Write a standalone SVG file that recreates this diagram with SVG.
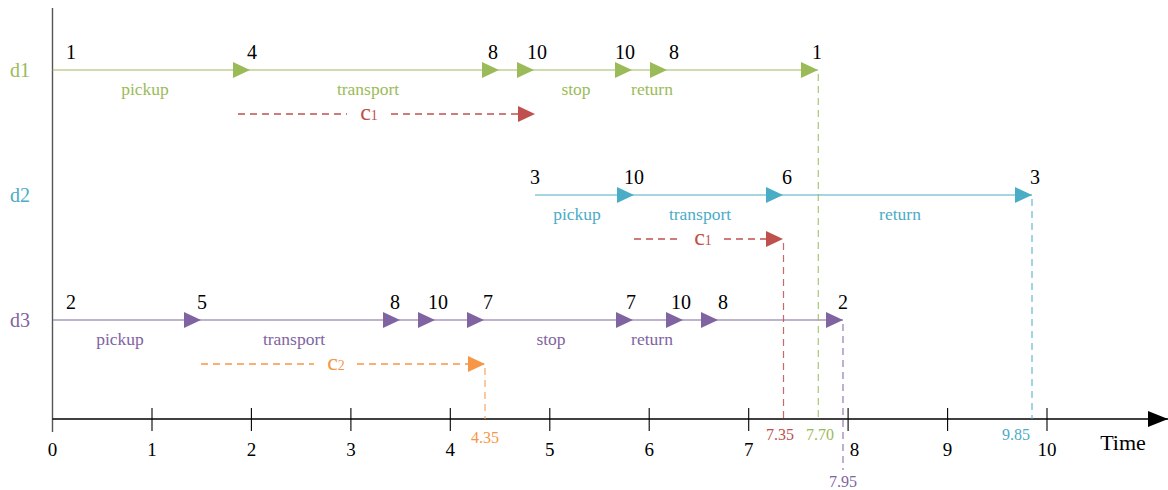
<svg xmlns="http://www.w3.org/2000/svg" width="1168" height="490" viewBox="0 0 1168 490">
<style>
text{font-family:"Liberation Serif","DejaVu Serif",serif}
.num{font-size:20px;fill:#000;text-anchor:middle}
.act{font-size:17.5px;text-anchor:middle}
.row{font-size:20px}
.tick{font-size:19px;fill:#000;text-anchor:middle}
.val{font-size:16px;text-anchor:middle}
.cl{font-size:24px;text-anchor:middle}
.g{fill:#9BBB59}.b{fill:#4BACC6}.p{fill:#8064A2}.r{fill:#C0504D}.o{fill:#F79646}
.ln{stroke-width:1.2;fill:none}
.dash{stroke-width:1.3;fill:none;stroke-dasharray:7 5}
.vd{stroke-width:1.2;fill:none;stroke-dasharray:7 5;opacity:0.85}
</style>
<defs>
<marker id="mG" viewBox="0 0 17 16" markerWidth="17" markerHeight="16" refX="17" refY="8" orient="auto" markerUnits="userSpaceOnUse"><path d="M0,0 L17,8 L0,16 z" fill="#9BBB59"/></marker>
<marker id="mB" viewBox="0 0 17 16" markerWidth="17" markerHeight="16" refX="17" refY="8" orient="auto" markerUnits="userSpaceOnUse"><path d="M0,0 L17,8 L0,16 z" fill="#4BACC6"/></marker>
<marker id="mP" viewBox="0 0 17 16" markerWidth="17" markerHeight="16" refX="17" refY="8" orient="auto" markerUnits="userSpaceOnUse"><path d="M0,0 L17,8 L0,16 z" fill="#8064A2"/></marker>
<marker id="mR" viewBox="0 0 17 16" markerWidth="17" markerHeight="16" refX="17" refY="8" orient="auto" markerUnits="userSpaceOnUse"><path d="M0,0 L17,8 L0,16 z" fill="#C0504D"/></marker>
<marker id="mO" viewBox="0 0 17 16" markerWidth="17" markerHeight="16" refX="17" refY="8" orient="auto" markerUnits="userSpaceOnUse"><path d="M0,0 L17,8 L0,16 z" fill="#F79646"/></marker>
<marker id="mK" viewBox="0 0 20 16" markerWidth="20" markerHeight="16" refX="20" refY="8" orient="auto" markerUnits="userSpaceOnUse"><path d="M0,0 L20,8 L0,16 z" fill="#000"/></marker>
</defs>
<rect width="1168" height="490" fill="#fff"/>

<g id="axes">
<line x1="52.5" y1="8" x2="52.5" y2="432" stroke="#555" stroke-width="1.4"/>
<line x1="52.5" y1="419" x2="1168" y2="419" stroke="#000" stroke-width="1.4" marker-end="url(#mK)"/>
<g stroke="#000" stroke-width="1.1">
<line x1="152" y1="408" x2="152" y2="431"/>
<line x1="251.4" y1="408" x2="251.4" y2="431"/>
<line x1="350.9" y1="408" x2="350.9" y2="431"/>
<line x1="450.3" y1="408" x2="450.3" y2="431"/>
<line x1="549.8" y1="408" x2="549.8" y2="431"/>
<line x1="649.2" y1="408" x2="649.2" y2="431"/>
<line x1="748.7" y1="408" x2="748.7" y2="431"/>
<line x1="848.1" y1="408" x2="848.1" y2="431"/>
<line x1="947.6" y1="408" x2="947.6" y2="431"/>
<line x1="1047" y1="408" x2="1047" y2="431"/>
</g>
<text class="tick" x="52.5" y="456">0</text>
<text class="tick" x="152" y="456">1</text>
<text class="tick" x="251.4" y="456">2</text>
<text class="tick" x="350.9" y="456">3</text>
<text class="tick" x="450.3" y="456">4</text>
<text class="tick" x="549.8" y="456">5</text>
<text class="tick" x="649.2" y="456">6</text>
<text class="tick" x="748.7" y="456">7</text>
<text class="tick" x="854.5" y="456">8</text>
<text class="tick" x="947.6" y="456">9</text>
<text class="tick" x="1047" y="456">10</text>
<text x="1123" y="450" font-size="22" text-anchor="middle" fill="#000">Time</text>
</g>

<g id="connectors">
<g stroke="#9BBB59" class="ln">
<line x1="52.5" y1="70" x2="250" y2="70" marker-end="url(#mG)"/>
<line x1="250" y1="70" x2="499" y2="70" marker-end="url(#mG)"/>
<line x1="499" y1="70" x2="534" y2="70" marker-end="url(#mG)"/>
<line x1="534" y1="70" x2="632" y2="70" marker-end="url(#mG)"/>
<line x1="632" y1="70" x2="667" y2="70" marker-end="url(#mG)"/>
<line x1="667" y1="70" x2="818" y2="70" marker-end="url(#mG)"/>
</g>
<g stroke="#4BACC6" class="ln">
<line x1="535" y1="195" x2="634" y2="195" marker-end="url(#mB)"/>
<line x1="634" y1="195" x2="783" y2="195" marker-end="url(#mB)"/>
<line x1="783" y1="195" x2="1032" y2="195" marker-end="url(#mB)"/>
</g>
<g stroke="#8064A2" class="ln">
<line x1="52.5" y1="320" x2="201" y2="320" marker-end="url(#mP)"/>
<line x1="201" y1="320" x2="400" y2="320" marker-end="url(#mP)"/>
<line x1="400" y1="320" x2="435" y2="320" marker-end="url(#mP)"/>
<line x1="435" y1="320" x2="484" y2="320" marker-end="url(#mP)"/>
<line x1="484" y1="320" x2="633" y2="320" marker-end="url(#mP)"/>
<line x1="633" y1="320" x2="683" y2="320" marker-end="url(#mP)"/>
<line x1="683" y1="320" x2="718" y2="320" marker-end="url(#mP)"/>
<line x1="718" y1="320" x2="843" y2="320" marker-end="url(#mP)"/>
</g>
<g stroke="#C0504D" class="dash">
<line x1="238" y1="114" x2="347" y2="114"/>
<line x1="391" y1="114" x2="535" y2="114" marker-end="url(#mR)"/>
<line x1="634" y1="239" x2="682" y2="239"/>
<line x1="724" y1="239" x2="783" y2="239" marker-end="url(#mR)"/>
</g>
<g stroke="#F79646" class="dash">
<line x1="201" y1="364" x2="314" y2="364"/>
<line x1="357" y1="364" x2="485" y2="364" marker-end="url(#mO)"/>
</g>
<line class="vd" stroke="#9BBB59" x1="818.3" y1="74" x2="818.3" y2="419"/>
<line class="vd" stroke="#C0504D" x1="783.5" y1="243" x2="783.5" y2="419"/>
<line class="vd" stroke="#4BACC6" x1="1032" y1="199" x2="1032" y2="419"/>
<line class="vd" stroke="#8064A2" x1="843" y1="324" x2="843" y2="470"/>
<line class="vd" stroke="#F79646" x1="485" y1="368" x2="485" y2="419"/>
</g>

<g id="d1">
<text class="row g" x="10" y="77">d1</text>
<text class="num" x="71" y="59">1</text>
<text class="num" x="252" y="59">4</text>
<text class="num" x="493" y="59">8</text>
<text class="num" x="537" y="59">10</text>
<text class="num" x="625" y="59">10</text>
<text class="num" x="674" y="59">8</text>
<text class="num" x="817" y="59">1</text>
<text class="act g" x="145" y="95">pickup</text>
<text class="act g" x="368" y="95">transport</text>
<text class="act g" x="576" y="95">stop</text>
<text class="act g" x="652" y="95">return</text>
</g>
<g id="d2">
<text class="row b" x="10" y="202">d2</text>
<text class="num" x="535" y="184">3</text>
<text class="num" x="634" y="184">10</text>
<text class="num" x="787" y="184">6</text>
<text class="num" x="1035" y="184">3</text>
<text class="act b" x="577" y="220">pickup</text>
<text class="act b" x="700" y="220">transport</text>
<text class="act b" x="900" y="220">return</text>
</g>
<g id="d3">
<text class="row p" x="10" y="327">d3</text>
<text class="num" x="71" y="309">2</text>
<text class="num" x="202" y="309">5</text>
<text class="num" x="395" y="309">8</text>
<text class="num" x="438" y="309">10</text>
<text class="num" x="488" y="309">7</text>
<text class="num" x="631" y="309">7</text>
<text class="num" x="681" y="309">10</text>
<text class="num" x="723" y="309">8</text>
<text class="num" x="843" y="309">2</text>
<text class="act p" x="120" y="345">pickup</text>
<text class="act p" x="294" y="345">transport</text>
<text class="act p" x="551" y="345">stop</text>
<text class="act p" x="652" y="345">return</text>
</g>
<g id="conflict-c1-d1"><text class="cl r" x="369" y="120">c<tspan font-size="14">1</tspan></text></g>
<g id="conflict-c1-d2"><text class="cl r" x="703" y="245">c<tspan font-size="14">1</tspan></text></g>
<g id="conflict-c2"><text class="cl o" x="336" y="370">c<tspan font-size="14">2</tspan></text></g>
<g id="values">
<text class="val o" x="485" y="443">4.35</text>
<text class="val r" x="780" y="440">7.35</text>
<text class="val g" x="820" y="440">7.70</text>
<text class="val p" x="843" y="487">7.95</text>
<text class="val b" x="1016" y="440">9.85</text>
</g>
</svg>
